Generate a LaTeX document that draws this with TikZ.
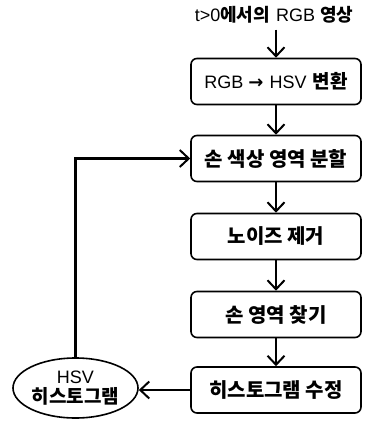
\documentclass[tikz,border=0pt]{standalone}
\usepackage{fontspec}
\setmainfont{Liberation Sans}
\newfontfamily\kr{Noto Sans CJK KR}
\newfontfamily\sym{DejaVu Sans}
\usetikzlibrary{arrows.meta,shapes.geometric}
\begin{document}
\begin{tikzpicture}[x=1pt,y=-1pt,
  box/.style={draw,line width=1.6pt,rounded corners=6pt,minimum width=170pt,minimum height=46pt,inner sep=0pt,font=\fontsize{20}{24}\selectfont\kr\bfseries},
  conn/.style={line width=2.2pt,-{Straight Barb[length=9pt,width=17pt,line width=2pt]}}]
\useasboundingbox (0,0) rectangle (368,421);
\node[font=\fontsize{18}{20}\selectfont,inner sep=0pt] (t) at (274,15) {t>0{\fontsize{18}{20}\selectfont\kr\bfseries 에서의}\hspace{6pt}RGB\hspace{5pt}{\fontsize{18}{20}\selectfont\kr\bfseries 영상}};
\node[box,font=\fontsize{18}{20}\selectfont] (b1) at (276,81.5) {RGB\hspace{5pt}{\sym\bfseries →}\hspace{6pt}HSV\hspace{6pt}{\fontsize{19}{20}\selectfont\kr\bfseries 변환}};
\node[box] (b2) at (276,158.5) {손 색상 영역 분할};
\node[box] (b3) at (276,236.5) {노이즈 제거};
\node[box] (b4) at (276,314.5) {손 영역 찾기};
\node[box] (b5) at (276,390) {히스토그램 수정};
\node[draw,ellipse,line width=1.6pt,minimum width=125pt,minimum height=60pt,inner sep=0pt,align=center,font=\fontsize{18}{24}\selectfont] (e) at (75.5,388) {HSV\\[-4pt]{\fontsize{19}{22}\selectfont\kr\bfseries 히스토그램}};
\path (t.south -| b1.north) ++(0,6) coordinate (ts);
\draw[conn] (ts) -- (b1);
\draw[conn] (b1) -- (b2);
\draw[conn] (b2) -- (b3);
\draw[conn] (b3) -- (b4);
\draw[conn] (b4) -- (b5);
\draw[conn] (b5.west) -- (e.east |- b5.west);
\draw[conn] (e.north) |- (b2.west);
\end{tikzpicture}
\end{document}
